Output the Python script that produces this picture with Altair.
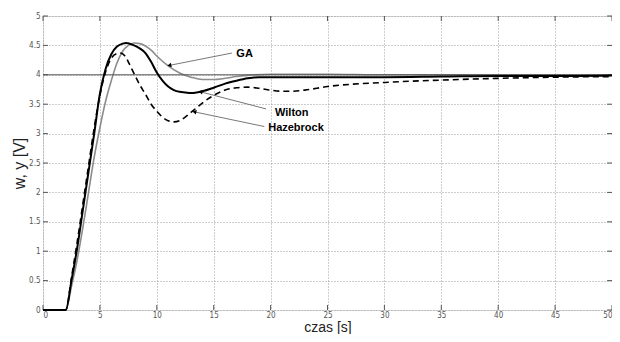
import altair as alt
import pandas as pd

# --- data ---
wilton_t = [0, 2, 2.5, 3, 3.5, 4, 4.5, 5, 5.5, 6, 6.5, 7, 7.3, 8, 8.5, 9, 9.5, 10, 10.5, 11, 11.5, 12, 12.5, 13, 13.5,
            14, 15, 16, 17, 18, 19, 20, 22, 25, 30, 35, 40, 45, 50]
wilton_y = [0, 0, 0.5, 1.05, 1.7, 2.35, 3.0, 3.68, 4.1, 4.35, 4.48, 4.53, 4.54, 4.5, 4.45, 4.37, 4.22, 4.04, 3.9, 3.8,
            3.74, 3.71, 3.7, 3.69, 3.7, 3.72, 3.78, 3.85, 3.9, 3.94, 3.96, 3.96, 3.96, 3.96, 3.96, 3.97, 3.98, 3.98, 3.99]

ga_t = [0, 2, 2.5, 3, 3.5, 4, 4.5, 5, 5.5, 6, 6.5, 7, 7.5, 8, 8.5, 9, 9.5, 10, 11, 12, 13, 14, 15, 16, 17, 18, 20,
        25, 30, 50]
ga_y = [0, 0, 0.4, 0.85, 1.4, 2.0, 2.6, 3.1, 3.55, 3.9, 4.2, 4.4, 4.5, 4.54, 4.53, 4.49, 4.42, 4.32, 4.15, 4.03,
        3.96, 3.92, 3.92, 3.94, 3.97, 3.99, 4.01, 4.01, 4.0, 4.0]

haz_t = [0, 2, 2.5, 3, 3.5, 4, 4.5, 5, 5.5, 6, 6.5, 6.8, 7.2, 7.6, 8, 8.5, 9, 9.5, 10, 10.5, 11, 11.5, 12, 12.5,
         13, 13.5, 14, 15, 16, 17, 18, 19, 20, 21, 22, 23, 25, 30, 35, 40, 45, 50]
haz_y = [0, 0, 0.55, 1.15, 1.8, 2.45, 3.1, 3.65, 4.05, 4.28, 4.36, 4.37, 4.32, 4.18, 4.02, 3.83, 3.67, 3.5, 3.38,
         3.28, 3.22, 3.2, 3.22, 3.28, 3.36, 3.44, 3.52, 3.65, 3.74, 3.78, 3.79, 3.77, 3.74, 3.72, 3.72, 3.74, 3.8,
         3.87, 3.91, 3.94, 3.96, 3.97]

setpoint = 4.0

labels = ["GA", "Wilton", "Hazebrock"]
label_x = [16.9, 20.3, 19.7]
label_y = [4.36, 3.35, 3.09]
arrow_tail_x = [16.6, 19.6, 19.45]
arrow_tail_y = [4.37, 3.42, 3.12]
arrow_tip_x = [11.1, 13.85, 13.3]
arrow_tip_y = [4.16, 3.71, 3.37]
arrow_angle = [349, 14, 12]

x_ticks = list(range(0, 51, 5))
y_ticks = [0, 0.5, 1, 1.5, 2, 2.5, 3, 3.5, 4, 4.5, 5]

X_MIN, X_MAX, Y_MIN, Y_MAX = 0, 50, 0, 5

# --- tables ---
def series(t, y, name):
    return pd.DataFrame({"t": t, "y": y, "s": name})

df_w = series(wilton_t, wilton_y, "Wilton")
df_g = series(ga_t, ga_y, "GA")
df_h = series(haz_t, haz_y, "Hazebrock")
ann = pd.DataFrame({"label": labels, "lx": label_x, "ly": label_y,
                    "tx": arrow_tail_x, "ty": arrow_tail_y,
                    "hx": arrow_tip_x, "hy": arrow_tip_y, "ang": arrow_angle})

# inward tick marks (MATLAB style), from the tick lists
xt_len = 0.085 * (Y_MAX - Y_MIN) / 5
yt_len = 0.43 * (X_MAX - X_MIN) / 50
xt = pd.DataFrame({"t": x_ticks * 2,
                   "y": [Y_MIN] * len(x_ticks) + [Y_MAX] * len(x_ticks),
                   "y2": [Y_MIN + xt_len] * len(x_ticks) + [Y_MAX - xt_len] * len(x_ticks)})
yt = pd.DataFrame({"y": y_ticks * 2,
                   "t": [X_MIN] * len(y_ticks) + [X_MAX] * len(y_ticks),
                   "t2": [X_MIN + yt_len] * len(y_ticks) + [X_MAX - yt_len] * len(y_ticks)})

xs = alt.Scale(domain=[X_MIN, X_MAX], nice=False)
ys = alt.Scale(domain=[Y_MIN, Y_MAX], nice=False)

common_axis = dict(grid=True, gridDash=[1, 2], gridColor="#9a9a9a",
                   labelFont="DejaVu Sans Condensed", labelFontSize=8, labelColor="#555",
                   ticks=False, domain=False, labelOverlap=False, format="~g",
                   titleFont="Liberation Sans", titleFontWeight="normal", titleColor="#222")
ax_x = alt.Axis(values=x_ticks, title="czas [s]", labelPadding=1, titleFontSize=14, labelFlush=True,
                titleY=21, titleBaseline="alphabetic", **common_axis)
ax_y = alt.Axis(values=y_ticks, title="w, y [V]", labelPadding=3, titlePadding=1, titleFontSize=16,
                labelFlush=False, **common_axis)

X = lambda f="t": alt.X(f"{f}:Q", scale=xs, axis=ax_x)
Y = lambda f="y": alt.Y(f"{f}:Q", scale=ys, axis=ax_y)

sp = alt.Chart(pd.DataFrame({"y": [setpoint]})).mark_rule(color="#555", strokeWidth=1).encode(y=Y())

ga = alt.Chart(df_g).mark_line(color="#8c8c8c", strokeWidth=1.6, interpolate="monotone").encode(x=X(), y=Y())
haz = alt.Chart(df_h).mark_line(color="#000", strokeWidth=1.6, strokeDash=[6, 4],
                                interpolate="monotone").encode(x=X(), y=Y())
wil = alt.Chart(df_w).mark_line(color="#000", strokeWidth=2, interpolate="monotone").encode(x=X(), y=Y())

xticks_l = alt.Chart(xt).mark_rule(color="#555", strokeWidth=1).encode(x=X(), y=Y(), y2="y2:Q")
yticks_l = alt.Chart(yt).mark_rule(color="#555", strokeWidth=1).encode(y=Y(), x=X(), x2="t2:Q")

arrows = alt.Chart(ann).mark_rule(color="#555", strokeWidth=0.8).encode(
    x=X("tx"), y=Y("ty"), x2="hx:Q", y2="hy:Q")
heads = alt.Chart(ann).mark_point(shape="triangle-left", filled=True, color="#000", size=22, opacity=1).encode(
    x=X("hx"), y=Y("hy"), angle=alt.Angle("ang:Q", scale=None))
texts = alt.Chart(ann).mark_text(align="left", baseline="middle", font="Liberation Sans", fontSize=11,
                                 fontWeight="bold", color="#000", dx=1).encode(
    x=X("lx"), y=Y("ly"), text="label:N")

chart = alt.layer(ga, xticks_l, yticks_l, sp, haz, wil, arrows, heads, texts).properties(
    width=569, height=294, autosize="none",
    padding={"left": 35, "top": 8, "right": 0, "bottom": 24},
).configure_view(stroke="#444", strokeWidth=1).configure(background="white")

chart.save("out.html", embed_options={"renderer": "svg", "actions": False})
